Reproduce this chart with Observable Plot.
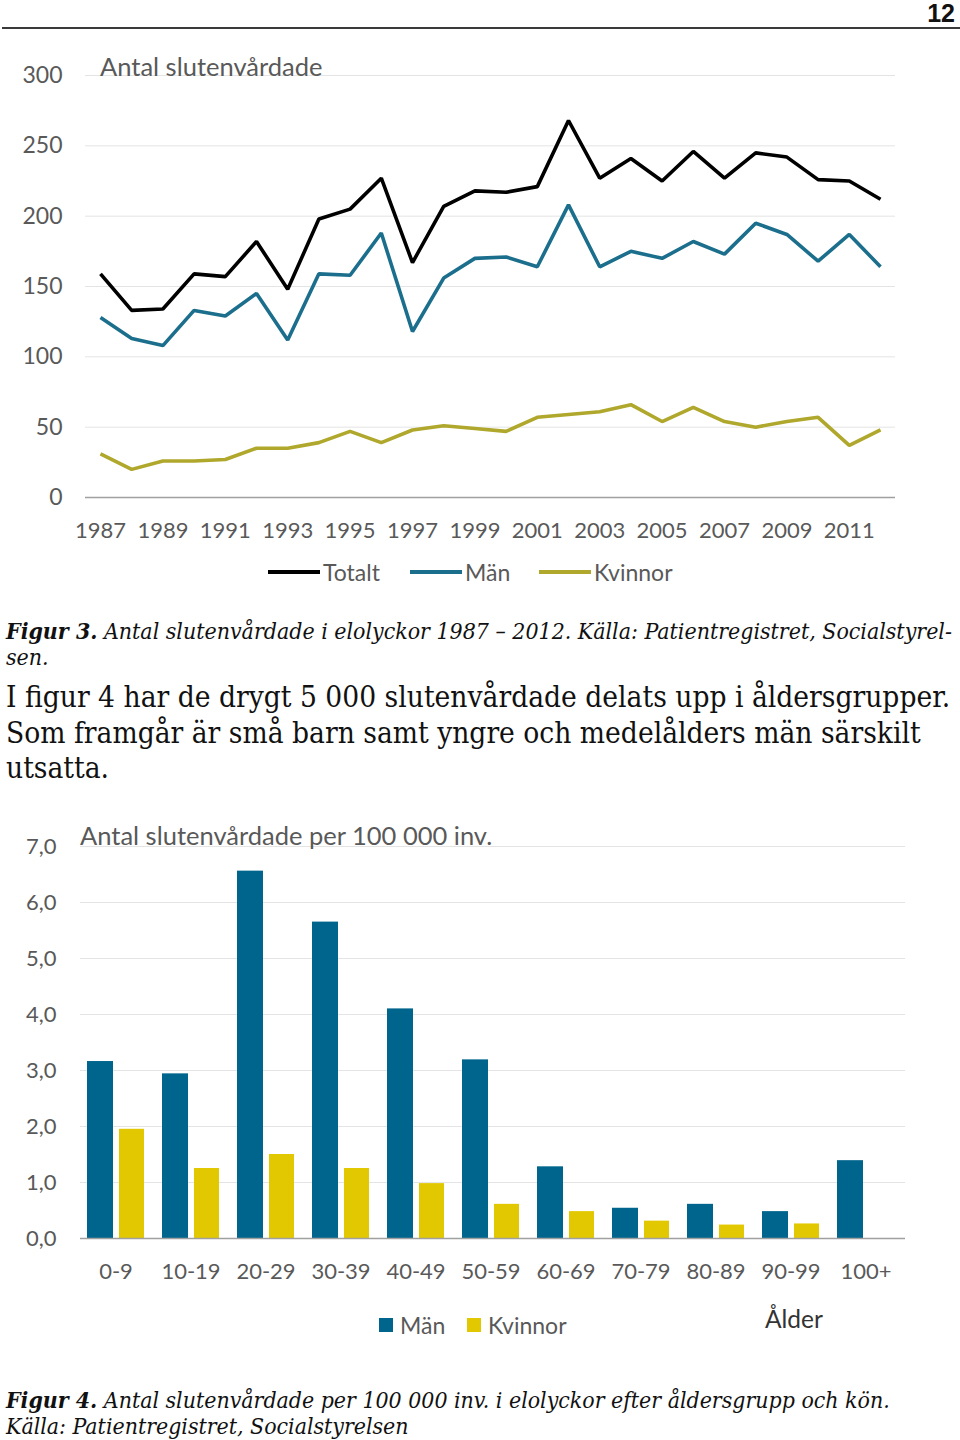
<!DOCTYPE html>
<html>
<head>
<meta charset="utf-8">
<script src="https://cdn.jsdelivr.net/npm/d3@7"></script>
<script src="https://cdn.jsdelivr.net/npm/@observablehq/plot@0.6"></script>
<style>
  html, body { margin: 0; padding: 0; background: #fff; }
  body { width: 960px; height: 1440px; position: relative; overflow: hidden; }
  .abs { position: absolute; }
  #pagenum { right: 5px; top: 0px; font: bold 25px "Liberation Sans", Arial, sans-serif; line-height: 26px; color: #111; }
  #rule { left: 2px; top: 27px; width: 958px; height: 2px; background: #3a3a3a; }
  .charttitle { font-family: Lato, sans-serif; font-size: 25.5px; color: #595959; line-height: 28px; white-space: nowrap; }
  .legend { font-family: Lato, sans-serif; font-size: 23px; color: #595959; line-height: 26px; white-space: nowrap; }
  .legend .item { position: absolute; display: flex; align-items: center; }
  .cap { font-family: "DejaVu Serif", serif; font-style: italic; font-stretch: condensed; font-size: 20px; line-height: 26px; color: #111; white-space: nowrap; left: 6px; }
  .cap b { font-weight: bold; }
  .body { font-family: "DejaVu Serif", serif; font-stretch: condensed; font-size: 30px; line-height: 35.5px; color: #111; white-space: nowrap; left: 6px; }
  .ln { display: block; height: inherit; }
  .ln span { display: inline-block; }
</style>
</head>
<body>
<div id="pagenum" class="abs">12</div>
<div id="rule" class="abs"></div>

<div id="chart1" class="abs" style="left:0;top:40px;"></div>
<div class="abs charttitle" style="left:100px;top:52px;">Antal slutenvårdade</div>
<div id="legend1" class="abs legend" style="left:0;top:559px;width:960px;height:26px;"></div>

<div class="abs cap fit" data-target="946" style="top:618px;"><div class="ln"><span><b>Figur 3.</b> Antal slutenvårdade i elolyckor 1987 – 2012. Källa: Patientregistret, Socialstyrel-</span></div><div class="ln"><span>sen.</span></div></div>
<div class="abs body fit" data-target="944" style="top:680px;"><div class="ln"><span>I figur 4 har de drygt 5 000 slutenvårdade delats upp i åldersgrupper.</span></div><div class="ln"><span>Som framgår är små barn samt yngre och medelålders män särskilt</span></div><div class="ln"><span>utsatta.</span></div></div>

<div id="chart2" class="abs" style="left:0;top:800px;"></div>
<div class="abs charttitle" style="left:80px;top:821px;">Antal slutenvårdade per 100 000 inv.</div>
<div id="legend2" class="abs legend" style="left:0;top:1312px;width:960px;height:26px;"></div>

<div class="abs cap fit" data-target="884" style="top:1387px;"><div class="ln"><span><b>Figur 4.</b> Antal slutenvårdade per 100 000 inv. i elolyckor efter åldersgrupp och kön.</span></div><div class="ln"><span>Källa: Patientregistret, Socialstyrelsen</span></div></div>

<script>
// ---------- Figure 3 data ----------
const years = [1987,1988,1989,1990,1991,1992,1993,1994,1995,1996,1997,1998,1999,2000,2001,2002,2003,2004,2005,2006,2007,2008,2009,2010,2011,2012];
const totalt  = [159,133,134,159,157,182,148,198,205,227,167,207,218,217,221,268,227,241,225,246,227,245,242,226,225,212];
const man     = [128,113,108,133,129,145,112,159,158,188,118,156,170,171,164,208,164,175,170,182,173,195,187,168,187,164];
const kvinnor = [31,20,26,26,27,35,35,39,47,39,48,51,49,47,57,59,61,66,54,64,54,50,54,57,37,48];
const lineSeries = ["Totalt","Män","Kvinnor"];
const lineYTicks = [0,50,100,150,200,250,300];
const lineXTicks = [1987,1989,1991,1993,1995,1997,1999,2001,2003,2005,2007,2009,2011];

// ---------- Figure 4 data ----------
const ageGroups = ["0-9","10-19","20-29","30-39","40-49","50-59","60-69","70-79","80-89","90-99","100+"];
const manRate     = [3.16,2.94,6.56,5.65,4.10,3.19,1.28,0.54,0.61,0.48,1.39];
const kvinnorRate = [1.95,1.25,1.50,1.25,0.98,0.61,0.48,0.31,0.24,0.26,0];
const barSeries = ["Män","Kvinnor"];
const barYTicks = [0,1,2,3,4,5,6,7];
const axisLabel = "Ålder";

// ---------- colours ----------
const lineColors = ["#000000","#1c6f8c","#b0a82c"];
const barColors = ["#00658c","#e2c800"];
const tickColor = "#595959";

// build tables
const lineData = [];
years.forEach((yr, i) => {
  lineData.push({year: yr, serie: "Totalt", v: totalt[i]});
  lineData.push({year: yr, serie: "Män", v: man[i]});
  lineData.push({year: yr, serie: "Kvinnor", v: kvinnor[i]});
});
const barMan = ageGroups.map((g, i) => ({age: g, v: manRate[i]}));
const barKv = ageGroups.map((g, i) => ({age: g, v: kvinnorRate[i]}));

const chart1 = Plot.plot({
  width: 960, height: 510,
  marginLeft: 85, marginRight: 65, marginTop: 35, marginBottom: 53,
  style: {fontFamily: "Lato, sans-serif", fontSize: "22px", color: tickColor, background: "transparent"},
  x: {domain: [1987, 2012], inset: 15, ticks: lineXTicks, tickFormat: d => String(d), tickSize: 0, tickPadding: 25, label: null},
  y: {domain: [0, 300], ticks: lineYTicks, tickSize: 0, tickPadding: 23, label: null},
  color: {domain: lineSeries, range: lineColors},
  marks: [
    Plot.ruleY(lineYTicks.filter(d => d > 0), {stroke: "#e4e4e4", strokeWidth: 1}),
    Plot.ruleY([0], {stroke: "#a0a0a0", strokeWidth: 1.5}),
    Plot.lineY(lineData, {x: "year", y: "v", z: "serie", stroke: "serie", strokeWidth: 3.6, strokeLinejoin: "miter", strokeLinecap: "butt"})
  ]
});
chart1.querySelectorAll("[aria-label='y-axis tick label'] text, [aria-label='y-axis tick label']").forEach(n => n.setAttribute("font-size", "23"));
document.getElementById("chart1").appendChild(chart1);

const chart2 = Plot.plot({
  width: 960, height: 500,
  marginLeft: 78, marginRight: 57, marginTop: 46, marginBottom: 62,
  style: {fontFamily: "Lato, sans-serif", fontSize: "22px", color: tickColor, background: "transparent"},
  x: {domain: ageGroups, padding: 0, tickSize: 0, tickPadding: 25, label: null},
  y: {domain: [0, 7], ticks: barYTicks, tickFormat: d => d.toFixed(1).replace(".", ","), tickSize: 0, tickPadding: 22, label: null},
  marks: [
    Plot.ruleY(barYTicks.filter(d => d > 0), {stroke: "#e4e4e4", strokeWidth: 1, dx: 2}),
    Plot.barY(barMan, {x: "age", y: "v", fill: barColors[0], insetLeft: 9, insetRight: 40}),
    Plot.barY(barKv, {x: "age", y: "v", fill: barColors[1], insetLeft: 41, insetRight: 9}),
    Plot.ruleY([0], {stroke: "#a0a0a0", strokeWidth: 1.5, dx: 2})
  ]
});
document.getElementById("chart2").appendChild(chart2);

// legends
function lineSwatch(color) {
  return `<svg width="52" height="6" style="margin-right:3px"><line x1="0" y1="3" x2="52" y2="3" stroke="${color}" stroke-width="4"/></svg>`;
}
const leg1 = document.getElementById("legend1");
const leg1Pos = [268, 410, 539];
lineSeries.forEach((s, i) => {
  const d = document.createElement("div");
  d.className = "item";
  d.style.left = leg1Pos[i] + "px";
  d.style.top = "0px";
  d.innerHTML = lineSwatch(lineColors[i]) + `<span>${s}</span>`;
  leg1.appendChild(d);
});
const leg2 = document.getElementById("legend2");
const leg2Pos = [379, 467];
barSeries.forEach((s, i) => {
  const d = document.createElement("div");
  d.className = "item";
  d.style.left = leg2Pos[i] + "px";
  d.style.top = "0px";
  d.innerHTML = `<span style="display:inline-block;width:14px;height:14px;background:${barColors[i]};margin-right:7px"></span><span>${s}</span>`;
  leg2.appendChild(d);
});
const al = document.createElement("div");
al.className = "item";
al.style.left = "765px";
al.style.top = "-6px";
al.innerHTML = `<span style="color:#333;font-size:24.5px">${axisLabel}</span>`;
leg2.appendChild(al);

// fit paragraph font sizes to the reference line widths
function fitAll() {
  document.querySelectorAll(".fit").forEach(el => {
    const target = +el.dataset.target;
    const span = el.querySelector(".ln span");
    const fs = parseFloat(getComputedStyle(el).fontSize);
    const w = span.getBoundingClientRect().width;
    if (w > 0) el.style.fontSize = (fs * target / w) + "px";
  });
}
fitAll();
if (document.fonts && document.fonts.ready) document.fonts.ready.then(fitAll);
</script>
</body>
</html>
